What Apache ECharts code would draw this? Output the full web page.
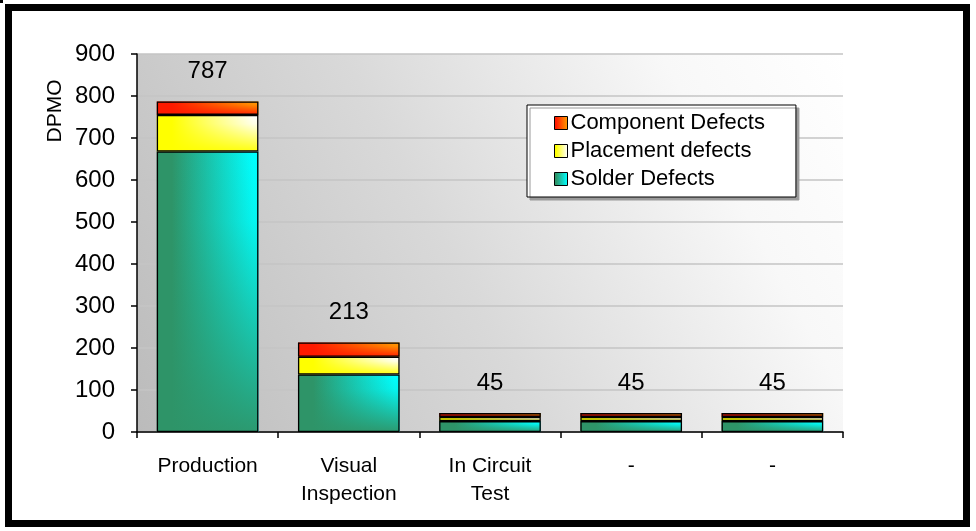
<!DOCTYPE html>
<html>
<head>
<meta charset="utf-8">
<script src="https://cdn.jsdelivr.net/npm/echarts@6/dist/echarts.min.js"></script>
<style>
html,body{margin:0;padding:0;background:#fff;}
#chart{width:976px;height:531px;}
</style>
</head>
<body>
<div id="chart"></div>
<script>
var categories = ['Production', 'Visual\nInspection', 'In Circuit\nTest', '-', '-'];
var solderDefects = [668, 137, 26, 26, 26];
var placementDefects = [87, 42, 10, 10, 10];
var componentDefects = [32, 34, 9, 9, 9];
var totals = [787, 213, 45, 45, 45];
var seriesNames = ['Component Defects', 'Placement defects', 'Solder Defects'];
var yTicks = [0, 100, 200, 300, 400, 500, 600, 700, 800, 900];

var FONT = 'Liberation Sans, Arial, sans-serif';
function hgrad(c0, c1) {
  return new echarts.graphic.LinearGradient(0, 0, 1, 0, [
    {offset: 0, color: c0}, {offset: 0.15, color: c0}, {offset: 0.95, color: c1}, {offset: 1, color: c1}
  ]);
}
function vshade(rgb) {
  return new echarts.graphic.LinearGradient(0, 0, 0, 1, [
    {offset: 0, color: 'rgba(' + rgb + ',0)'},
    {offset: 0.25, color: 'rgba(' + rgb + ',0.1)'},
    {offset: 1, color: 'rgba(' + rgb + ',0.95)'}
  ]);
}
var chart = echarts.init(document.getElementById('chart'), null, {renderer: 'canvas'});
function base(name, data, fill, z) {
  return {
    type: 'bar', name: name, data: data, stack: 'fill', barWidth: '72%', barGap: '-100%', z: z,
    emphasis: {disabled: true},
    itemStyle: {color: fill, borderColor: '#000', borderWidth: 0}
  };
}
function overlay(name, data, fill, z) {
  return {
    type: 'bar', name: name + ' shade', data: data, stack: 'shade', barWidth: '72%', barGap: '-100%', z: z,
    emphasis: {disabled: true}, silent: true,
    itemStyle: {color: fill, borderColor: '#000', borderWidth: 1.3}
  };
}
var sComp = base('Component Defects', componentDefects, hgrad('#ff1a00', '#ff9900'), 3);
sComp.label = {
  show: true, position: 'top', distance: 18,
  fontFamily: FONT, fontSize: 24, color: '#000',
  formatter: function (p) { return String(totals[p.dataIndex]); }
};
var sPlace = base('Placement defects', placementDefects, hgrad('#ffff00', '#ffffff'), 3);
var sSolder = base('Solder Defects', solderDefects, hgrad('#2e9468', '#00ffff'), 3);

chart.setOption({
  animation: false,
  backgroundColor: '#ffffff',
  grid: {
    left: 137, right: 133, top: 54, bottom: 99,
    show: true, borderWidth: 0,
    backgroundColor: new echarts.graphic.LinearGradient(0, 1, 1, 0, [
      {offset: 0, color: '#bbbbbb'},
      {offset: 0.45, color: '#d9d9d9'},
      {offset: 0.8, color: '#f8f8f8'},
      {offset: 1, color: '#ffffff'}
    ])
  },
  legend: {
    data: seriesNames,
    orient: 'vertical',
    left: 527, top: 105,
    padding: [7, 31, 7, 27],
    itemWidth: 13, itemHeight: 13, itemGap: 6,
    icon: 'rect',
    backgroundColor: '#ffffff',
    borderColor: '#000', borderWidth: 1,
    shadowColor: '#9a9a9a', shadowBlur: 0, shadowOffsetX: 3, shadowOffsetY: 3,
    itemStyle: {borderColor: '#000', borderWidth: 1},
    textStyle: {fontFamily: FONT, fontSize: 22, color: '#000', padding: [0, 0, 0, -2]},
    selectedMode: false
  },
  xAxis: {
    type: 'category',
    data: categories,
    axisLine: {lineStyle: {color: '#000', width: 1.5}},
    axisTick: {show: true, length: 6, lineStyle: {color: '#000', width: 1.5}},
    axisLabel: {fontFamily: FONT, fontSize: 21, color: '#000', margin: 20, lineHeight: 28}
  },
  yAxis: {
    type: 'value',
    min: yTicks[0], max: yTicks[yTicks.length - 1], interval: 100,
    axisLine: {show: true, lineStyle: {color: '#000', width: 1.5}},
    axisTick: {show: true, length: 6, lineStyle: {color: '#000', width: 1.5}},
    axisLabel: {fontFamily: FONT, fontSize: 24, color: '#000', margin: 22},
    splitLine: {lineStyle: {color: '#c4c4c4', width: 1.5}}
  },
  series: [
    sSolder, sPlace, sComp,
    overlay('Solder Defects', solderDefects, vshade('46,148,104'), 4),
    overlay('Placement defects', placementDefects, vshade('255,255,0'), 4),
    overlay('Component Defects', componentDefects, vshade('255,26,0'), 4)
  ],
  graphic: [
    {type: 'rect', z: 100, shape: {x: 8.5, y: 7.5, width: 958, height: 516},
     style: {fill: null, stroke: '#000', lineWidth: 7}},
    {type: 'rect', z: 100, shape: {x: 0, y: 0, width: 3, height: 3}, style: {fill: '#000'}},
    {type: 'text', z: 100, x: 55, y: 111, rotation: Math.PI / 2,
     style: {text: 'DPMO', font: '21px ' + FONT, fill: '#000', textAlign: 'center', textVerticalAlign: 'middle'}}
  ]
});
</script>
</body>
</html>
